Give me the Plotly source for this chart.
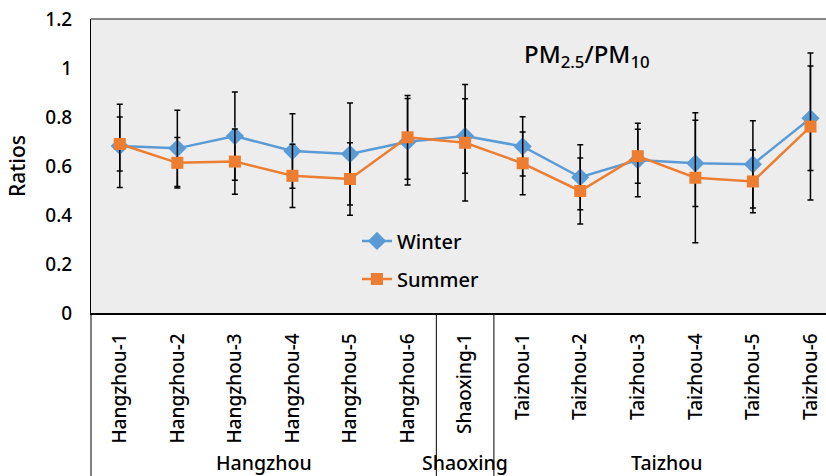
import plotly.graph_objects as go

sites = ["Hangzhou-1", "Hangzhou-2", "Hangzhou-3", "Hangzhou-4", "Hangzhou-5", "Hangzhou-6",
         "Shaoxing-1", "Taizhou-1", "Taizhou-2", "Taizhou-3", "Taizhou-4", "Taizhou-5", "Taizhou-6"]
winter = [0.682, 0.672, 0.722, 0.661, 0.649, 0.699, 0.722, 0.680, 0.554, 0.624, 0.611, 0.607, 0.795]
winter_err = [0.170, 0.156, 0.180, 0.152, 0.208, 0.177, 0.152, 0.121, 0.133, 0.150, 0.176, 0.178, 0.213]
summer = [0.690, 0.613, 0.618, 0.560, 0.547, 0.717, 0.695, 0.611, 0.498, 0.640, 0.552, 0.537, 0.761]
summer_err = [0.110, 0.103, 0.133, 0.129, 0.148, 0.171, 0.238, 0.128, 0.135, 0.110, 0.265, 0.128, 0.300]
groups = ["Hangzhou", "Shaoxing", "Taizhou"]
group_centers = [2.5, 6, 9.5]
group_separators = [5.5, 6.5]

FONT = "Noto Sans"
W = 500
idx = list(range(len(sites)))

fig = go.Figure()
fig.add_trace(go.Scatter(
    x=idx, y=winter, name="Winter", mode="lines+markers",
    line=dict(color="#5B9BD5", width=2.5),
    marker=dict(symbol="diamond", size=14, color="#5B9BD5"),
    error_y=dict(type="data", array=winter_err, color="black", thickness=1.5, width=3),
    legend="legend", showlegend=True,
))
fig.add_trace(go.Scatter(
    x=idx, y=summer, name="Summer", mode="lines+markers",
    line=dict(color="#ED7D31", width=2.5),
    marker=dict(symbol="square", size=12, color="#ED7D31"),
    error_y=dict(type="data", array=summer_err, color="black", thickness=1.5, width=3),
    legend="legend2", showlegend=True,
))

shapes = []
for s in group_separators:
    shapes.append(dict(type="line", xref="x", yref="paper", x0=s, x1=s, y0=0, y1=-0.56,
                       line=dict(color="black", width=1)))
shapes.append(dict(type="line", xref="paper", yref="paper", x0=0, x1=0, y0=0, y1=-0.56,
                   line=dict(color="black", width=1)))
# grey top frame line
shapes.append(dict(type="line", xref="paper", yref="paper", x0=0, x1=1, y0=1, y1=1,
                   line=dict(color="#606060", width=1.5)))

annotations = []
for g, c in zip(groups, group_centers):
    annotations.append(dict(x=c, xref="x", y=-0.508, yref="paper", text=g, showarrow=False,
                            xanchor="center", yanchor="middle",
                            font=dict(family=FONT, size=19.5, color="black", weight=W)))
annotations.append(dict(x=0.675, xref="paper", y=0.878, yref="paper",
                        text="PM<sub>2.5</sub>/PM<sub>10</sub>", showarrow=False,
                        xanchor="center", yanchor="middle",
                        font=dict(family=FONT, size=24, color="black", weight=W)))
annotations.append(dict(x=-0.1007, xref="paper", y=0.5, yref="paper", text="Ratios",
                        textangle=-90, showarrow=False, xanchor="center", yanchor="middle",
                        font=dict(family=FONT, size=21, color="black", weight=W)))

fig.update_layout(
    width=826, height=476,
    margin=dict(l=91, r=0, t=19, b=163),
    paper_bgcolor="white", plot_bgcolor="#EDEDED",
    font=dict(family=FONT, color="black", weight=W),
    showlegend=True,
    shapes=shapes, annotations=annotations,
    legend=dict(x=0.3619, y=0.245, xanchor="left", yanchor="middle", bgcolor="rgba(0,0,0,0)",
                font=dict(family=FONT, size=20, color="black", weight=W)),
    legend2=dict(x=0.3619, y=0.116, xanchor="left", yanchor="middle", bgcolor="rgba(0,0,0,0)",
                 font=dict(family=FONT, size=20, color="black", weight=W)),
    xaxis=dict(range=[-0.5, 12.27], tickmode="array", tickvals=idx, ticktext=sites,
               tickangle=-90, showgrid=False, zeroline=False, showline=True, linecolor="black",
               linewidth=1.5, mirror=False, ticks="", ticklabelstandoff=11,
               tickfont=dict(family=FONT, size=19, color="black", weight=W)),
    yaxis=dict(range=[0, 1.2], dtick=0.2, showgrid=False, zeroline=False, showline=True,
               linecolor="black", linewidth=1, ticks="", ticklabelstandoff=14,
               tickfont=dict(family=FONT, size=19, color="black", weight=W)),
)

fig.write_html("out.html")
